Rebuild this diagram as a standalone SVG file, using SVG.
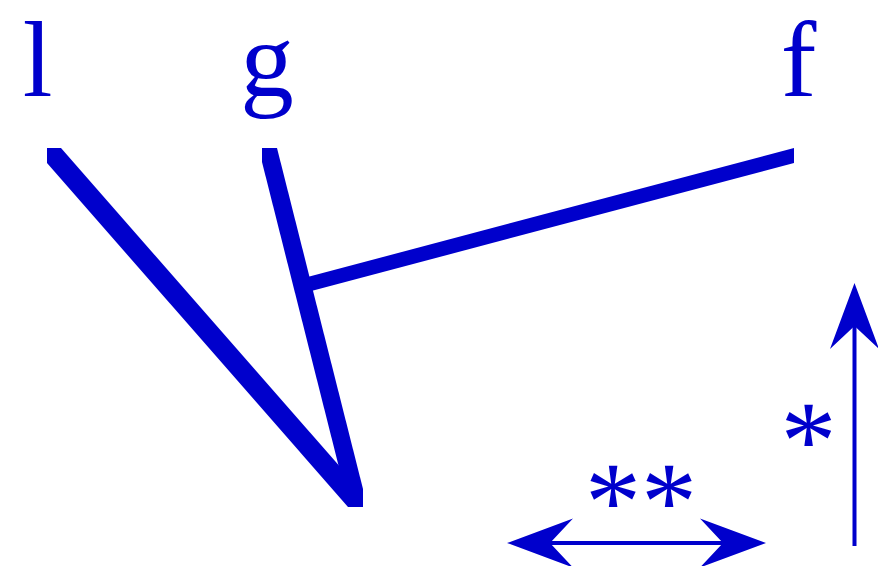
<svg xmlns="http://www.w3.org/2000/svg" width="878" height="566" viewBox="0 0 878 566">
  <style>
    .lbl { font-family: "Liberation Serif", "Times New Roman", serif; font-size: 107px; fill: #0000CC; }
    .ast { font-family: "Liberation Serif", "Times New Roman", serif; font-size: 112px; fill: #0000CC; }
    .edge { fill: #0000CC; stroke: none; }
    .axis { stroke: #0000CC; stroke-width: 4; fill: none; }
  </style>
  <defs>
    <marker id="head" markerUnits="userSpaceOnUse" markerWidth="80" markerHeight="60" viewBox="-30 -30 80 60" refX="0" refY="0" orient="auto-start-reverse" overflow="visible">
      <path d="M43,0 L-23,-24.5 L0,0 L-23,24.5 Z" fill="#0000CC"/>
    </marker>
  </defs>
  <rect width="878" height="566" fill="#ffffff"/>

  <g id="connectors">
    <polygon class="edge" points="47,148 61,148 363,493 363,507 348,507 47,163"/>
    <polygon class="edge" points="262,148 277,148 363,489 363,507 349,507 262,162"/>
    <polygon class="edge" points="300,279 794,148 794,163 300,294"/>
  </g>

  <g id="node-l"><text class="lbl" x="37.5" y="96" text-anchor="middle">l</text></g>
  <g id="node-g"><text class="lbl" x="267" y="96" text-anchor="middle">g</text></g>
  <g id="node-f"><text class="lbl" x="798.5" y="96" text-anchor="middle">f</text></g>

  <g id="scale-horizontal">
    <line class="axis" x1="550" y1="543" x2="723" y2="543" marker-start="url(#head)" marker-end="url(#head)"/>
    <text class="ast" x="641" y="539" text-anchor="middle">**</text>
  </g>
  <g id="scale-vertical">
    <line class="axis" x1="854.5" y1="546" x2="854.5" y2="326" marker-end="url(#head)"/>
    <text class="ast" x="808.5" y="478" text-anchor="middle">*</text>
  </g>
</svg>
